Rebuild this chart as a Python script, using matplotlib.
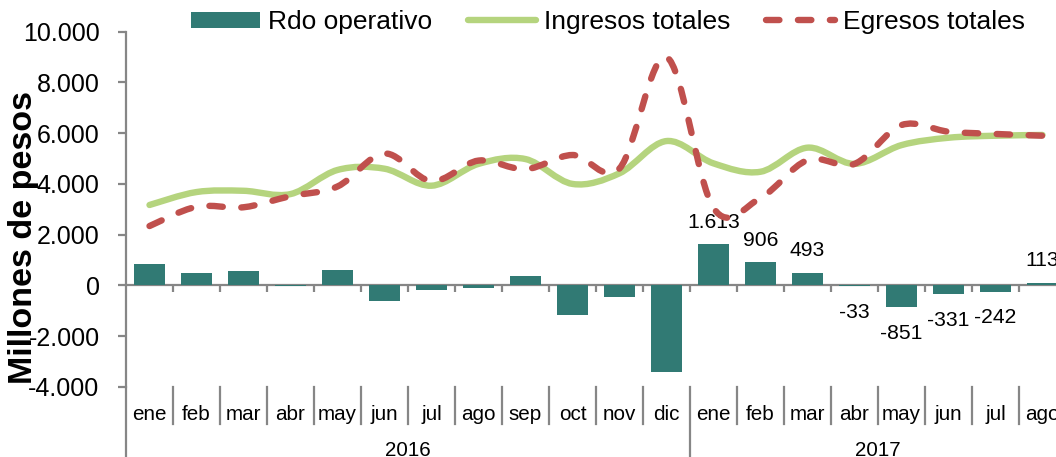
import matplotlib
matplotlib.use("Agg")
import matplotlib.pyplot as plt
import matplotlib.transforms as mtransforms
from matplotlib.path import Path
from matplotlib.patches import PathPatch, Patch
from matplotlib.lines import Line2D
from matplotlib.ticker import FuncFormatter, MultipleLocator

# datos (millones de pesos)
meses = ["ene", "feb", "mar", "abr", "may", "jun", "jul", "ago", "sep", "oct", "nov", "dic",
         "ene", "feb", "mar", "abr", "may", "jun", "jul", "ago"]
anios = ["2016", "2017"]
meses_por_anio = [12, 8]

rdo_operativo = [843, 500, 580, -20, 590, -615, -177, -110, 380, -1147, -457, -3400,
                 1613, 906, 493, -33, -851, -331, -242, 113]
ingresos = [3170, 3680, 3730, 3600, 4550, 4600, 3930, 4790, 4980, 4000, 4420, 5690,
            4810, 4480, 5430, 4790, 5530, 5820, 5900, 5930]
egresos = [2340, 3100, 3080, 3520, 3900, 5200, 4110, 4920, 4580, 5140, 4610, 9000,
           3050, 3450, 4940, 4790, 6320, 6060, 5970, 5900]

TEAL = "#317A74"
VERDE = "#B5D47E"
ROJO = "#C0504D"
GRIS = "#868686"

plt.rcParams["font.family"] = ["Liberation Sans", "DejaVu Sans"]


def fmt_miles(v, pos=None):
    return f"{v:,.0f}".replace(",", ".")


def curva_suave(xs, ys):
    # curva tipo Excel "linea suavizada" (Catmull-Rom como Bezier)
    n = len(xs)
    verts = [(xs[0], ys[0])]
    codes = [Path.MOVETO]
    for i in range(n - 1):
        a = i - 1 if i > 0 else i
        d = i + 2 if i + 2 < n else i + 1
        c1 = (xs[i] + (xs[i + 1] - xs[a]) / 6, ys[i] + (ys[i + 1] - ys[a]) / 6)
        c2 = (xs[i + 1] - (xs[d] - xs[i]) / 6, ys[i + 1] - (ys[d] - ys[i]) / 6)
        verts += [c1, c2, (xs[i + 1], ys[i + 1])]
        codes += [Path.CURVE4] * 3
    return Path(verts, codes)


W, H = 1056, 457
fig = plt.figure(figsize=(W / 100, H / 100), dpi=100)
ax = fig.add_axes([126 / W, (H - 386.9) / H, 940 / W, 355.2 / H])

x = list(range(len(meses)))
ax.bar(x, rdo_operativo, width=0.65, color=TEAL, zorder=2)

ax.add_patch(PathPatch(curva_suave(x, ingresos), fill=False, edgecolor=VERDE,
                       linewidth=4.6, capstyle="round", joinstyle="round", zorder=3))
ax.add_patch(PathPatch(curva_suave(x, egresos), fill=False, edgecolor=ROJO,
                       linewidth=4.6, linestyle=(0, (2.1, 2.9)), capstyle="round",
                       joinstyle="round", zorder=4))

ax.set_xlim(-0.5, len(meses) - 0.5)
ax.set_ylim(-4000, 10000)
ax.yaxis.set_major_locator(MultipleLocator(2000))
ax.yaxis.set_major_formatter(FuncFormatter(fmt_miles))

for s in ["top", "right"]:
    ax.spines[s].set_visible(False)
ax.spines["left"].set_color(GRIS)
ax.spines["left"].set_linewidth(1.6)
ax.spines["bottom"].set_position(("data", 0))
ax.spines["bottom"].set_color(GRIS)
ax.spines["bottom"].set_linewidth(1.6)
ax.spines["bottom"].set_zorder(1)

ax.tick_params(axis="y", colors=GRIS, length=6, width=1.6, pad=13, labelsize=18,
               labelcolor="black")
ax.set_xticks([i - 0.5 for i in range(1, len(meses))])
ax.tick_params(axis="x", colors=GRIS, length=5, width=1.6, labelbottom=False)

# etiquetas de datos (solo 2017)
for i in range(12, len(meses)):
    v = rdo_operativo[i]
    off = 16 if v >= 0 else -19
    ax.annotate(fmt_miles(v), (i, v), xytext=(0, off), textcoords="offset points",
                ha="center", va="center", fontsize=15.2)

# eje de categorias en dos niveles
tr = mtransforms.blended_transform_factory(ax.transData, fig.transFigure)
y_top = (H - 386.9) / H
y_mes = (H - 424) / H
for i, m in enumerate(meses):
    ax.text(i, (H - 420.5) / H, m, transform=tr, ha="center", va="baseline",
            fontsize=14.9, clip_on=False)
    if i > 0:
        y_fin = 0 if i == 12 else y_mes
        ax.add_line(Line2D([i - 0.5, i - 0.5], [y_top, y_fin], transform=tr,
                           color=GRIS, linewidth=1.6, clip_on=False))
ax.add_line(Line2D([-0.5, -0.5], [y_top, 0], transform=tr, color=GRIS,
                   linewidth=1.6, clip_on=False))
inicio = 0
for a, n in zip(anios, meses_por_anio):
    ax.text(inicio + (n - 1) / 2, 0.003, a, transform=tr, ha="center", va="baseline",
            fontsize=14.9, clip_on=False)
    inicio += n

fig.text(24 / W, (H - 237) / H, "Millones de pesos", rotation=90, ha="center",
         va="center", fontsize=24.5, fontweight="bold")

handles = [Patch(facecolor=TEAL),
           Line2D([], [], color=VERDE, linewidth=4.6, solid_capstyle="round"),
           Line2D([], [], color=ROJO, linewidth=4.6, linestyle=(0, (2.1, 2.9)),
                  dash_capstyle="round")]
fig.legend(handles, ["Rdo operativo", "Ingresos totales", "Egresos totales"],
           loc="center", bbox_to_anchor=(608 / W, (H - 22) / H), ncol=3, frameon=False,
           fontsize=19, handlelength=2.6, handleheight=0.55, handletextpad=0.3,
           columnspacing=1.35, borderpad=0, borderaxespad=0)

fig.savefig("out.png", dpi=100)
